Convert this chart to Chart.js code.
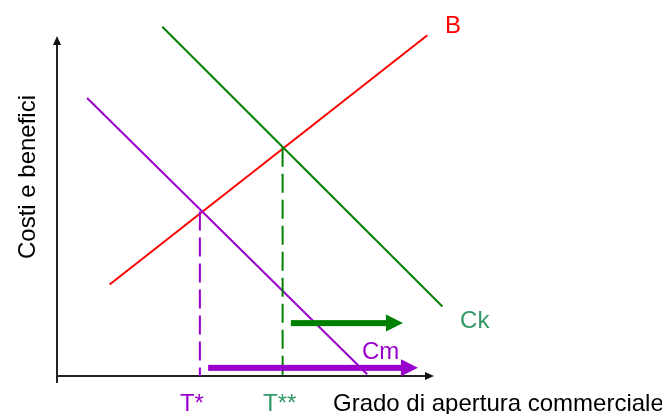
<!DOCTYPE html>
<html>
<head>
<meta charset="utf-8">
<script src="https://cdn.jsdelivr.net/npm/chart.js@4"></script>
<style>
  html, body { margin: 0; padding: 0; background: #fff; }
  #wrap { width: 662px; height: 414px; position: relative; }
</style>
</head>
<body>
<div id="wrap"><canvas id="chart"></canvas></div>
<script>
// curve end points (x = grado di apertura, y = costi/benefici)
var bX = [1.4, 9.85];
var bY = [2.7, 10.05];
var ckX = [2.8, 10.25];
var ckY = [10.3, 2.05];
var cmX = [0.8, 8.25];
var cmY = [8.2, 0.05];

// equilibri
var tStar = 3.8;
var tStarY = 4.85;
var tStar2 = 6.0;
var tStar2Y = 6.73;

// frecce di spostamento [x inizio, x punta, y]
var arrowCk = [6.22, 9.2, 1.56];
var arrowCm = [4.02, 9.6, 0.24];

var RED = '#ff0000';
var GREEN = '#008000';
var GREEN_TXT = '#339966';
var PURPLE = '#9900cc';
var FONT = '24px "Liberation Sans", Arial, sans-serif';

function pts(xs, ys) {
    return xs.map(function(x, i) { return { x: x, y: ys[i] }; });
}

function lineSet(xs, ys, color, dash) {
    return {
        data: pts(xs, ys),
        showLine: true,
        borderColor: color,
        borderWidth: 2,
        borderDash: dash || [],
        pointRadius: 0,
        clip: false
    };
}

// assi con frecce, frecce spesse e testi
var decorPlugin = {
    id: 'decor',
    beforeDatasetsDraw: function(chart) {
        var ctx = chart.ctx;
        var xs = chart.scales.x, ys = chart.scales.y;
        var ox = xs.getPixelForValue(0), oy = ys.getPixelForValue(0);
        var xe = xs.getPixelForValue(10), ye = ys.getPixelForValue(10);
        ctx.save();
        ctx.strokeStyle = '#222';
        ctx.fillStyle = '#111';
        ctx.lineWidth = 2;
        ctx.beginPath();
        ctx.moveTo(ox, oy + 7);
        ctx.lineTo(ox, ye + 6);
        ctx.moveTo(ox - 1, oy);
        ctx.lineTo(xe - 6, oy);
        ctx.stroke();
        ctx.beginPath();
        ctx.moveTo(ox, ye - 1);
        ctx.lineTo(ox - 4, ye + 8);
        ctx.lineTo(ox + 4, ye + 8);
        ctx.closePath();
        ctx.fill();
        ctx.beginPath();
        ctx.moveTo(xe + 1, oy);
        ctx.lineTo(xe - 8, oy - 4);
        ctx.lineTo(xe - 8, oy + 4);
        ctx.closePath();
        ctx.fill();
        ctx.restore();
    },
    afterDatasetsDraw: function(chart) {
        var ctx = chart.ctx;
        var xs = chart.scales.x, ys = chart.scales.y;

        function arrow(a, color) {
            var x0 = xs.getPixelForValue(a[0]);
            var x1 = xs.getPixelForValue(a[1]);
            var y = ys.getPixelForValue(a[2]);
            ctx.save();
            ctx.fillStyle = color;
            ctx.fillRect(x0, y - 3, x1 - x0 - 14, 6);
            ctx.beginPath();
            ctx.moveTo(x1, y);
            ctx.lineTo(x1 - 17, y - 8.5);
            ctx.lineTo(x1 - 17, y + 8.5);
            ctx.closePath();
            ctx.fill();
            ctx.restore();
        }
        arrow(arrowCk, GREEN);
        arrow(arrowCm, PURPLE);

        function text(t, x, y, color) {
            ctx.fillStyle = color;
            ctx.fillText(t, xs.getPixelForValue(x), ys.getPixelForValue(y));
        }
        ctx.save();
        ctx.font = FONT;
        ctx.textAlign = 'left';
        ctx.textBaseline = 'alphabetic';
        text('B', 10.32, 10.12, RED);
        text('Ck', 10.72, 1.42, GREEN_TXT);
        text('Cm', 8.11, 0.5, PURPLE);
        text('T*', 3.27, -1.03, PURPLE);
        text('T**', 5.48, -1.03, GREEN_TXT);
        text('Grado di apertura commerciale', 7.34, -1.03, '#000');
        ctx.translate(xs.getPixelForValue(-0.59), ys.getPixelForValue(5.87));
        ctx.rotate(-Math.PI / 2);
        ctx.textAlign = 'center';
        ctx.fillStyle = '#000';
        ctx.fillText('Costi e benefici', 0, 0);
        ctx.restore();
    }
};

new Chart(document.getElementById('chart').getContext('2d'), {
    type: 'scatter',
    data: {
        datasets: [
            lineSet([tStar, tStar], [tStarY, 0], PURPLE, [19, 7]),
            lineSet([tStar2, tStar2], [tStar2Y, 0], GREEN, [19, 7]),
            lineSet(cmX, cmY, PURPLE),
            lineSet(ckX, ckY, GREEN),
            lineSet(bX, bY, RED)
        ]
    },
    options: {
        responsive: true,
        maintainAspectRatio: false,
        animation: false,
        layout: { padding: { left: 57, right: 229, top: 37, bottom: 38 } },
        plugins: {
            legend: { display: false },
            tooltip: { enabled: false }
        },
        scales: {
            x: { type: 'linear', min: 0, max: 10, display: false },
            y: { type: 'linear', min: 0, max: 10, display: false }
        }
    },
    plugins: [decorPlugin]
});
</script>
</body>
</html>
